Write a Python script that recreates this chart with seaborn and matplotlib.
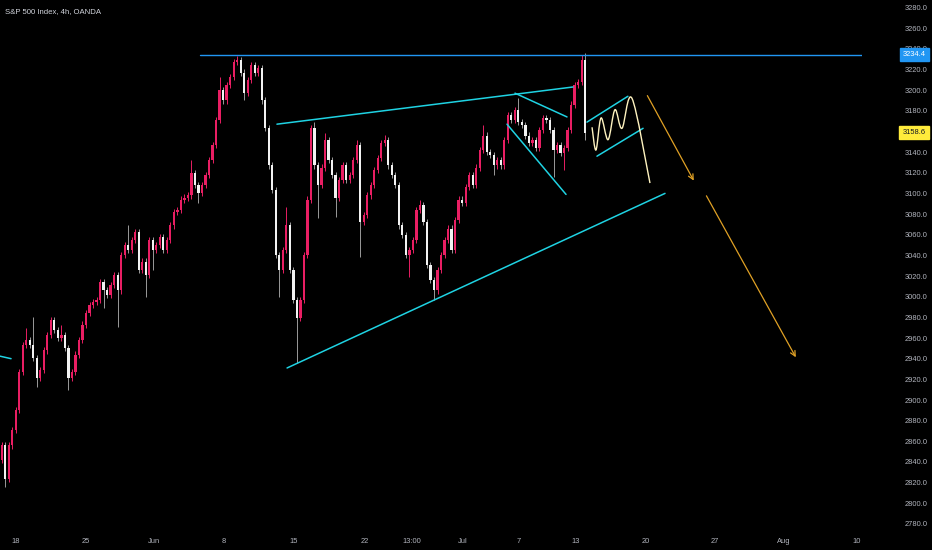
import matplotlib
matplotlib.use("Agg")
import matplotlib.pyplot as plt
import matplotlib.transforms as mtransforms
from matplotlib.path import Path
from matplotlib.patches import PathPatch, FancyArrowPatch
import seaborn as sns
import numpy as np

# --- data (4 bars per trading day, x = trading days since May 18) ---
first_open = 2842
closes = [
    2856, 2824, 2856, 2871, 2890, 2927, 2953, 2958, 2953, 2941,
    2921, 2929, 2948, 2963, 2977, 2968, 2960, 2963, 2950, 2921,
    2927, 2944, 2958, 2973, 2984, 2992, 2995, 2997, 3014, 3006,
    3002, 3011, 3021, 3006, 3040, 3050, 3045, 3055, 3063, 3026,
    3034, 3021, 3055, 3045, 3050, 3058, 3045, 3055, 3069, 3082,
    3084, 3094, 3096, 3098, 3120, 3108, 3100, 3108, 3118, 3132,
    3147, 3171, 3200, 3190, 3205, 3213, 3227, 3229, 3217, 3197,
    3210, 3224, 3217, 3221, 3190, 3163, 3127, 3103, 3040, 3026,
    3045, 3069, 3026, 2997, 2979, 2997, 3040, 3094, 3163, 3127,
    3108, 3125, 3152, 3132, 3118, 3096, 3113, 3127, 3113, 3118,
    3132, 3147, 3072, 3079, 3098, 3108, 3123, 3134, 3149, 3152,
    3127, 3118, 3108, 3069, 3060, 3040, 3045, 3055, 3084, 3089,
    3072, 3031, 3016, 3006, 3026, 3040, 3055, 3066, 3045, 3074,
    3094, 3091, 3106, 3118, 3108, 3125, 3142, 3156, 3140, 3137,
    3127, 3132, 3127, 3152, 3176, 3171, 3181, 3169, 3166, 3156,
    3149, 3152, 3144, 3161, 3173, 3171, 3161, 3142, 3147, 3139,
    3144, 3161, 3186, 3205, 3208, 3229, 3158.6,
]
spike_highs = {7: 2970, 9: 2980, 17: 2973, 36: 3069, 38: 3066, 54: 3132, 62: 3213,
               67: 3233, 81: 3087, 89: 3169, 92: 3158, 101: 3152, 109: 3157,
               119: 3094, 137: 3166, 147: 3192, 165: 3234, 166: 3236}
spike_lows = {1: 2816, 10: 2913, 19: 2910, 29: 2989, 33: 2971, 41: 3000, 43: 3026,
              56: 3091, 69: 3190, 79: 3000, 84: 2936, 90: 3076, 95: 3077, 102: 3038,
              116: 3019, 123: 2997, 140: 3118, 157: 3116, 160: 3123, 166: 3152}
wick_pts = 3

date_ticks = [0, 5, 9.8, 14.8, 19.8, 24.8, 28.2, 31.8, 35.8, 39.8, 44.8, 49.7, 54.6, 59.8]
date_labels = ["18", "25", "Jun", "8", "15", "22", "13:00", "Jul", "7", "13", "20", "27", "Aug", "10"]
price_ticks = [p for p in range(2780, 3281, 20) if p != 3160]

resistance = 3234.4
resistance_start = 13.1
last_price = 3158.6

cyan_lines = [
    ((-1.3, 2943), (-0.33, 2940)),
    ((18.58, 3167), (39.64, 3203)),
    ((19.30, 2931), (46.18, 3100)),
    ((35.51, 3197), (39.21, 3174)),
    ((34.94, 3167), (39.14, 3099)),
    ((40.63, 3169), (43.54, 3194)),
    ((41.34, 3136), (44.62, 3163)),
]
wave_x = [40.99, 41.27, 41.63, 42.13, 42.62, 43.12, 43.83, 45.11]
wave_y = [3164, 3142, 3173, 3152, 3181, 3163, 3192, 3110]
arrows = [((44.83, 3197), (48.32, 3110)), ((49.03, 3100), (55.58, 2939))]

# --- style ---
sns.set_theme(style="dark", rc={"axes.facecolor": "black", "figure.facecolor": "black"})
plt.rcParams['font.family'] = ['Liberation Sans', 'DejaVu Sans']

up_col, down_col, down_wick = "#e91e63", "#f2f2f2", "#9a9a9a"
cyan, blue, gold, cream = "#1fd3e3", "#2196f3", "#e0a125", "#fff3c0"
txt_col = "#b2b5be"

fig = plt.figure(figsize=(9.32, 5.5), dpi=100)
ax = fig.add_axes([0, 22 / 550, 862 / 932, 528 / 550])
ax.set_facecolor("black")

closes = np.array(closes, dtype=float)
opens = np.concatenate([[first_open], closes[:-1]])
xs = (np.arange(len(closes)) - 4) / 4.0
highs = np.maximum(opens, closes) + wick_pts
lows = np.minimum(opens, closes) - wick_pts
for k, v in spike_highs.items():
    highs[k] = max(highs[k], v)
for k, v in spike_lows.items():
    lows[k] = min(lows[k], v)

rising = closes >= opens
body_cols = np.where(rising, up_col, down_col)
wick_cols = np.where(rising, up_col, down_wick)
ax.vlines(xs, lows, highs, colors=wick_cols, linewidth=0.7, zorder=2)
body_h = np.maximum(np.abs(closes - opens), 0.8)
ax.bar(xs, body_h, bottom=np.minimum(opens, closes), width=0.16,
       color=body_cols, linewidth=0, zorder=3)

# drawings
ax.plot([resistance_start, 70], [resistance, resistance], color=blue, lw=1.0, zorder=4)
for (x0, y0), (x1, y1) in cyan_lines:
    ax.plot([x0, x1], [y0, y1], color=cyan, lw=1.1, zorder=4, solid_capstyle="round")

# smooth wave through the points (Catmull-Rom as cubic Bezier)
P = np.column_stack([wave_x, wave_y])
verts, codes = [P[0]], [Path.MOVETO]
for i in range(len(P) - 1):
    p0 = P[i - 1] if i > 0 else P[i]
    p3 = P[i + 2] if i + 2 < len(P) else P[i + 1]
    c1 = P[i] + (P[i + 1] - p0) / 6.0
    c2 = P[i + 1] - (p3 - P[i]) / 6.0
    verts += [c1, c2, P[i + 1]]
    codes += [Path.CURVE4] * 3
ax.add_patch(PathPatch(Path(verts, codes), fill=False, edgecolor=cream, lw=1.0, zorder=4))

for (x0, y0), (x1, y1) in arrows:
    ax.add_patch(FancyArrowPatch((x0, y0), (x1, y1), arrowstyle="->", mutation_scale=9,
                                 color=gold, lw=0.9, zorder=4))

ax.set_xlim(-1.117, 60.19)
ax.set_ylim(2776.1, 3287.2)
ax.set_xticks(date_ticks)
ax.set_xticklabels(date_labels)
ax.set_yticks(price_ticks)
ax.set_yticklabels([f"{v:.1f}" for v in price_ticks])
ax.yaxis.tick_right()
ax.tick_params(axis="y", length=0, pad=31, labelsize=5.4, labelcolor=txt_col)
ax.tick_params(axis="x", length=0, pad=7, labelsize=5.4, labelcolor=txt_col)
ax.grid(False)
for s in ax.spines.values():
    s.set_visible(False)

trans = mtransforms.blended_transform_factory(fig.transFigure, ax.transData)
ax.text(914 / 932, resistance, f"{resistance:.1f}", transform=trans, ha="center", va="center",
        fontsize=5.4, color="white", zorder=6, clip_on=False,
        bbox=dict(boxstyle="square,pad=0.4", fc=blue, ec=blue))
ax.text(914 / 932, last_price, f"{last_price:.1f}", transform=trans, ha="center", va="center",
        fontsize=5.4, color="#131722", zorder=6, clip_on=False,
        bbox=dict(boxstyle="square,pad=0.4", fc="#ffeb3b", ec="#ffeb3b"))

fig.text(5 / 932, 1 - 12 / 550, "S&P 500 Index, 4h, OANDA", fontsize=5.6, color="#d1d4dc",
         va="center", ha="left")

fig.savefig("out.png", dpi=100, facecolor="black")
